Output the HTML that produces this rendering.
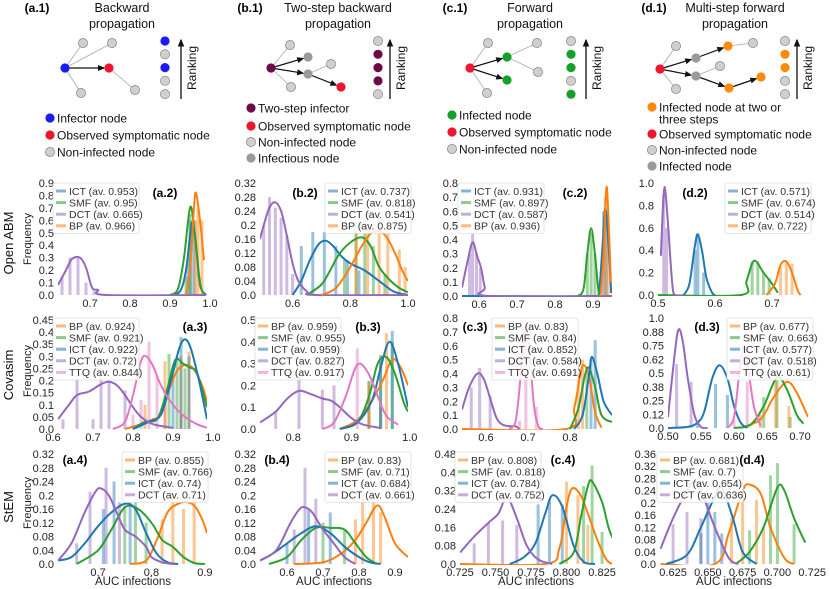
<!DOCTYPE html>
<html><head><meta charset="utf-8"><style>
body{margin:0;background:#fff}
svg{display:block;font-family:"Liberation Sans","DejaVu Sans",sans-serif}
</style></head><body>
<svg id="fig" width="830" height="589" viewBox="0 0 830 589" xmlns="http://www.w3.org/2000/svg">
<defs><marker id="ah" markerWidth="6" markerHeight="6" refX="5" refY="3" orient="auto"><path d="M0,0.5 L6,3 L0,5.5 z" fill="#111"/></marker></defs>
<g id="diagrams"></g>
<g id="charts"></g>
</svg>
<script>
// ---------- colors ----------
const COL={ICT:'#1f77b4',SMF:'#2ca02c',DCT:'#9467bd',BP:'#ff7f0e',TTQ:'#e377c2'};
// ---------- panel data ----------
const a2_ICT=[[0.9,0],[0.925,0.03],[0.94,0.2],[0.955,0.58],[0.965,0.4],[0.975,0.08],[0.99,0]];
const a2_SMF=[[0.9,0],[0.92,0.05],[0.935,0.3],[0.95,0.7],[0.96,0.55],[0.975,0.1],[0.985,0.01]];
const a2_DCT=[[0.62,0.08],[0.64,0.2],[0.655,0.29],[0.675,0.3],[0.69,0.22],[0.705,0.06],[0.72,0.04],[0.74,0],[0.99,0]];
const a2_BP=[[0.94,0],[0.95,0.2],[0.96,0.7],[0.965,0.82],[0.975,0.6],[0.985,0.28]];
const a2_bars={DCT:[[0.63,0.15],[0.65,0.3],[0.67,0.3],[0.69,0.1],[0.71,0.03]],ICT:[[0.945,0.3],[0.952,0.6],[0.96,0.6]],SMF:[[0.94,0.15],[0.95,0.65]],BP:[[0.963,0.6],[0.97,0.7],[0.98,0.6]]};

const b2_ICT=[[0.6,0],[0.63,0.04],[0.66,0.1],[0.69,0.145],[0.715,0.155],[0.74,0.14],[0.77,0.11],[0.8,0.09],[0.85,0.07],[0.9,0.04],[0.95,0.01],[1.0,0]];
const b2_SMF=[[0.65,0],[0.7,0.03],[0.73,0.07],[0.76,0.115],[0.8,0.15],[0.84,0.165],[0.87,0.14],[0.9,0.08],[0.94,0.04],[0.97,0.02],[1.0,0.008]];
const b2_DCT=[[0.487,0.16],[0.5,0.2],[0.52,0.25],[0.54,0.265],[0.56,0.24],[0.58,0.17],[0.6,0.09],[0.62,0.04],[0.65,0.01],[0.68,0],[1.0,0]];
const b2_BP=[[0.7,0],[0.75,0.02],[0.8,0.08],[0.84,0.14],[0.87,0.175],[0.9,0.183],[0.93,0.16],[0.96,0.11],[0.98,0.07],[1.0,0.04]];
const b2_bars={DCT:[[0.5,0.2],[0.52,0.28],[0.54,0.25],[0.56,0.22],[0.58,0.17],[0.6,0.06]],ICT:[[0.63,0.14],[0.67,0.18],[0.71,0.18],[0.75,0.14],[0.79,0.1],[0.83,0.07]],SMF:[[0.78,0.1],[0.82,0.2],[0.85,0.23],[0.88,0.14],[0.92,0.06]],BP:[[0.82,0.18],[0.86,0.24],[0.9,0.22],[0.93,0.18],[0.97,0.13],[0.99,0.08]]};

const c2_ICT=[[0.555,0],[0.9,0],[0.915,0.02],[0.925,0.35],[0.932,0.62],[0.94,0.4],[0.948,0.02]];
const c2_SMF=[[0.86,0],[0.875,0.05],[0.885,0.3],[0.895,0.48],[0.905,0.3],[0.915,0.03],[0.925,0]];
const c2_DCT=[[0.555,0.06],[0.57,0.25],[0.583,0.38],[0.595,0.28],[0.605,0.2],[0.615,0.06],[0.625,0],[0.95,0]];
const c2_BP=[[0.92,0],[0.928,0.3],[0.935,0.76],[0.94,0.6],[0.947,0.1]];
const c2_bars={DCT:[[0.575,0.3],[0.583,0.44],[0.593,0.3],[0.603,0.2]],SMF:[[0.885,0.3],[0.895,0.45],[0.905,0.3]],ICT:[[0.928,0.6],[0.935,0.6]],BP:[[0.932,0.7],[0.94,0.4]]};

const d2_ICT=[[0.545,0],[0.555,0.1],[0.565,0.45],[0.57,0.54],[0.577,0.4],[0.585,0.15],[0.595,0.02],[0.6,0]];
const d2_SMF=[[0.5,0],[0.645,0],[0.655,0.12],[0.665,0.28],[0.672,0.3],[0.685,0.2],[0.7,0.1],[0.71,0.02]];
const d2_DCT=[[0.505,0.35],[0.51,0.9],[0.513,0.92],[0.518,0.6],[0.525,0.1],[0.53,0],[0.545,0]];
const d2_BP=[[0.69,0],[0.705,0.1],[0.715,0.27],[0.725,0.3],[0.735,0.2],[0.745,0.04],[0.75,0]];
const d2_bars={DCT:[[0.51,0.9],[0.515,0.6]],ICT:[[0.565,0.4],[0.57,0.55],[0.58,0.2]],SMF:[[0.665,0.3],[0.675,0.3],[0.685,0.2],[0.695,0.15]],BP:[[0.715,0.25],[0.725,0.3],[0.735,0.28]]};

const a3_BP=[[0.78,0],[0.82,0.02],[0.85,0.04],[0.87,0.06],[0.89,0.16],[0.91,0.24],[0.935,0.265],[0.955,0.24],[0.975,0.17],[0.985,0.11]];
const a3_SMF=[[0.8,0],[0.83,0.03],[0.86,0.04],[0.88,0.13],[0.9,0.26],[0.91,0.29],[0.925,0.27],[0.94,0.255],[0.96,0.23],[0.985,0.09]];
const a3_ICT=[[0.8,0],[0.84,0.03],[0.87,0.06],[0.895,0.2],[0.915,0.33],[0.93,0.37],[0.945,0.33],[0.965,0.2],[0.985,0.04]];
const a3_DCT=[[0.6125,0.04],[0.64,0.1],[0.66,0.14],[0.69,0.155],[0.72,0.185],[0.74,0.195],[0.76,0.18],[0.78,0.14],[0.8,0.09],[0.82,0.05],[0.85,0.02],[0.9,0.005]];
const a3_TTQ=[[0.75,0],[0.78,0.03],[0.8,0.14],[0.82,0.28],[0.833,0.3],[0.85,0.26],[0.87,0.18],[0.9,0.1],[0.93,0.05],[0.96,0.02],[0.985,0.005]];
const a3_bars={DCT:[[0.625,0.04],[0.66,0.22],[0.7,0.04],[0.72,0.22],[0.74,0.2],[0.78,0.16]],TTQ:[[0.8,0.06],[0.82,0.12],[0.84,0.36],[0.86,0.22],[0.88,0.12],[0.92,0.06]],BP:[[0.83,0.1],[0.88,0.28],[0.92,0.3],[0.94,0.32]],SMF:[[0.89,0.31],[0.91,0.3],[0.93,0.25]],ICT:[[0.9,0.22],[0.92,0.38],[0.94,0.3]]};

const b3_BP=[[0.88,0],[0.91,0.04],[0.935,0.13],[0.955,0.23],[0.97,0.32],[0.985,0.28],[0.997,0.2]];
const b3_SMF=[[0.88,0],[0.91,0.03],[0.93,0.15],[0.945,0.3],[0.96,0.33],[0.975,0.25],[0.99,0.12],[0.997,0.08]];
const b3_ICT=[[0.88,0],[0.91,0.03],[0.935,0.13],[0.95,0.28],[0.965,0.4],[0.98,0.3],[0.997,0.1]];
const b3_DCT=[[0.743,0.03],[0.77,0.08],[0.79,0.14],[0.81,0.175],[0.83,0.16],[0.85,0.14],[0.865,0.13],[0.88,0.1],[0.9,0.05],[0.92,0.02],[0.95,0.005]];
const b3_TTQ=[[0.85,0],[0.87,0.03],[0.89,0.15],[0.905,0.27],[0.915,0.3],[0.93,0.25],[0.945,0.15],[0.96,0.06],[0.98,0.02]];
const b3_bars={DCT:[[0.77,0.08],[0.81,0.24],[0.85,0.18],[0.87,0.2]],TTQ:[[0.91,0.37],[0.93,0.22],[0.95,0.1]],SMF:[[0.93,0.22],[0.95,0.32],[0.97,0.4]],ICT:[[0.95,0.34],[0.97,0.45]],BP:[[0.93,0.2],[0.96,0.44]]};

const c3_BP=[[0.543,0],[0.79,0],[0.81,0.15],[0.825,0.4],[0.833,0.46],[0.845,0.38],[0.86,0.12],[0.875,0.01]];
const c3_SMF=[[0.8,0],[0.82,0.15],[0.835,0.38],[0.845,0.44],[0.86,0.3],[0.875,0.1],[0.9,0.05]];
const c3_ICT=[[0.81,0],[0.83,0.1],[0.845,0.38],[0.852,0.52],[0.865,0.4],[0.88,0.2],[0.9,0.1]];
const c3_DCT=[[0.543,0.14],[0.56,0.3],[0.58,0.4],[0.595,0.36],[0.61,0.22],[0.625,0.08],[0.64,0.03],[0.66,0.02],[0.67,0.02],[0.68,0]];
const c3_TTQ=[[0.655,0],[0.67,0.05],[0.68,0.3],[0.69,0.7],[0.697,0.72],[0.705,0.5],[0.715,0.15],[0.725,0.02],[0.735,0]];
const c3_bars={DCT:[[0.565,0.3],[0.585,0.44],[0.61,0.24]],TTQ:[[0.68,0.06],[0.695,0.7],[0.72,0.16]],BP:[[0.82,0.4],[0.83,0.5]],SMF:[[0.84,0.4]],ICT:[[0.85,0.5],[0.86,0.64]]};

const d3_BP=[[0.61,0],[0.64,0.08],[0.66,0.28],[0.68,0.42],[0.695,0.32],[0.712,0.1]];
const d3_SMF=[[0.6,0],[0.625,0.03],[0.645,0.2],[0.665,0.46],[0.68,0.35],[0.695,0.12],[0.705,0.04]];
const d3_ICT=[[0.5,0],[0.53,0.01],[0.545,0.05],[0.555,0.15],[0.567,0.45],[0.578,0.57],[0.59,0.45],[0.6,0.2],[0.61,0.05],[0.62,0]];
const d3_DCT=[[0.5,0.1],[0.507,0.5],[0.515,0.88],[0.522,0.8],[0.53,0.45],[0.54,0.12],[0.55,0.01],[0.56,0]];
const d3_TTQ=[[0.59,0],[0.6,0.1],[0.608,0.5],[0.615,0.75],[0.62,0.6],[0.63,0.2],[0.64,0.02]];
const d3_bars={DCT:[[0.513,0.58],[0.535,0.42]],ICT:[[0.545,0.05],[0.572,0.4],[0.59,0.3]],TTQ:[[0.6,0.08],[0.62,0.42]],SMF:[[0.645,0.28],[0.665,0.5],[0.685,0.1]],BP:[[0.64,0.12],[0.663,0.45],[0.683,0.2]]};

const a4_BP=[[0.76,0],[0.79,0.01],[0.81,0.07],[0.83,0.15],[0.85,0.175],[0.865,0.18],[0.88,0.17],[0.895,0.13],[0.904,0.09]];
const a4_SMF=[[0.66,0],[0.7,0.04],[0.725,0.1],[0.75,0.165],[0.775,0.16],[0.8,0.12],[0.82,0.07],[0.84,0.05],[0.86,0.02],[0.88,0.003],[0.9,0]];
const a4_ICT=[[0.625,0.01],[0.65,0.02],[0.675,0.06],[0.7,0.11],[0.725,0.15],[0.75,0.175],[0.77,0.16],[0.79,0.09],[0.81,0.03],[0.83,0.005],[0.85,0]];
const a4_DCT=[[0.625,0.01],[0.65,0.06],[0.675,0.15],[0.695,0.21],[0.705,0.22],[0.72,0.2],[0.735,0.15],[0.75,0.1],[0.77,0.08],[0.79,0.05],[0.8,0.02],[0.82,0.005],[0.84,0]];
const a4_bars={DCT:[[0.66,0.06],[0.685,0.21],[0.715,0.28],[0.74,0.18]],ICT:[[0.71,0.16],[0.73,0.24],[0.76,0.18]],SMF:[[0.75,0.17],[0.77,0.19],[0.79,0.12]],BP:[[0.82,0.13],[0.84,0.2],[0.86,0.16],[0.88,0.2]]};

const b4_BP=[[0.62,0],[0.7,0.005],[0.75,0.03],[0.79,0.07],[0.82,0.12],[0.85,0.17],[0.87,0.14],[0.9,0.06],[0.936,0.02]];
const b4_SMF=[[0.55,0],[0.6,0.02],[0.64,0.07],[0.68,0.105],[0.72,0.105],[0.76,0.1],[0.79,0.06],[0.82,0.02],[0.85,0]];
const b4_ICT=[[0.525,0.01],[0.56,0.03],[0.6,0.06],[0.64,0.09],[0.68,0.11],[0.72,0.09],[0.76,0.05],[0.8,0.02],[0.83,0.005],[0.86,0]];
const b4_DCT=[[0.525,0.01],[0.57,0.04],[0.61,0.12],[0.635,0.16],[0.65,0.165],[0.67,0.15],[0.7,0.1],[0.73,0.06],[0.76,0.02],[0.79,0]];
const b4_bars={DCT:[[0.62,0.1],[0.65,0.28],[0.68,0.19]],ICT:[[0.6,0.06],[0.66,0.16],[0.72,0.15]],SMF:[[0.7,0.12],[0.76,0.1]],BP:[[0.79,0.13],[0.81,0.2],[0.84,0.22],[0.86,0.15]]};

const c4_BP=[[0.725,0],[0.785,0],[0.795,0.07],[0.8,0.25],[0.804,0.33],[0.81,0.3],[0.815,0.22],[0.822,0.1],[0.828,0.02],[0.832,0]];
const c4_SMF=[[0.795,0],[0.805,0.05],[0.81,0.2],[0.815,0.34],[0.818,0.36],[0.825,0.27],[0.83,0.15],[0.836,0.07]];
const c4_ICT=[[0.76,0],[0.77,0.03],[0.778,0.09],[0.785,0.22],[0.79,0.3],[0.797,0.25],[0.805,0.08],[0.812,0.01],[0.82,0]];
const c4_DCT=[[0.725,0.05],[0.735,0.12],[0.745,0.18],[0.752,0.22],[0.758,0.29],[0.765,0.2],[0.772,0.08],[0.78,0.02],[0.79,0]];
const c4_bars={DCT:[[0.735,0.09],[0.745,0.18],[0.755,0.19],[0.765,0.17]],ICT:[[0.78,0.26],[0.788,0.28],[0.797,0.26]],BP:[[0.8,0.36],[0.808,0.3],[0.815,0.17]],SMF:[[0.812,0.34],[0.818,0.43],[0.825,0.14]]};

const d4_BP=[[0.616,0],[0.655,0],[0.665,0.1],[0.675,0.24],[0.68,0.26],[0.688,0.23],[0.695,0.12],[0.705,0.02],[0.712,0]];
const d4_SMF=[[0.67,0],[0.68,0.04],[0.69,0.12],[0.7,0.25],[0.705,0.24],[0.712,0.15],[0.72,0.07]];
const d4_ICT=[[0.62,0],[0.635,0.03],[0.645,0.12],[0.655,0.22],[0.66,0.25],[0.668,0.15],[0.675,0.04],[0.685,0]];
const d4_DCT=[[0.616,0.05],[0.625,0.15],[0.635,0.24],[0.64,0.27],[0.645,0.24],[0.655,0.12],[0.665,0.02],[0.672,0]];
const d4_bars={DCT:[[0.625,0.13],[0.635,0.17],[0.645,0.15]],ICT:[[0.645,0.1],[0.65,0.2],[0.655,0.17],[0.66,0.1]],BP:[[0.667,0.15],[0.675,0.21],[0.685,0.21],[0.69,0.12]],SMF:[[0.68,0.11],[0.695,0.29],[0.7,0.33],[0.712,0.13]]};

// tick label arrays
const yt_01_09=['0.0','0.1','0.2','0.3','0.4','0.5','0.6','0.7','0.8','0.9'];
const yt_04_32=['0.0','0.04','0.08','0.12','0.16','0.2','0.24','0.28','0.32'];
const yt_01_08=['0.0','0.1','0.2','0.3','0.4','0.5','0.6','0.7','0.8'];
const yt_02_10=['0.0','0.2','0.4','0.6','0.8','1.0'];
const yt_05_45=['0.0','0.05','0.1','0.15','0.2','0.25','0.3','0.35','0.4','0.45'];
const yt_01_05=['0.0','0.1','0.2','0.3','0.4','0.5'];
const yt_d3=['0.0','0.12','0.25','0.38','0.5','0.62','0.75','0.88','1.0'];
const yt_08_48=['0.0','0.08','0.16','0.24','0.32','0.4','0.48'];
const yt_04_36=['0.0','0.04','0.08','0.12','0.16','0.2','0.24','0.28','0.32','0.36'];

const panels=[
 {id:'a2',lab:'(a.2)',labx:165,laby:197,box:[58,183,207,295],xd:[0.62,0.9925],ymax:0.9,yt:yt_01_09,xt:['0.7','0.8','0.9','1.0'],
  order:['ICT','SMF','DCT','BP'],curves:{ICT:a2_ICT,SMF:a2_SMF,DCT:a2_DCT,BP:a2_BP},bars:a2_bars,avg:['0.953','0.95','0.665','0.966'],leg:[53,183]},
 {id:'b2',lab:'(b.2)',labx:305,laby:197,box:[260,183,408,295],xd:[0.487,1.0],ymax:0.32,yt:yt_04_32,xt:['0.6','0.8','1.0'],
  order:['ICT','SMF','DCT','BP'],curves:{ICT:b2_ICT,SMF:b2_SMF,DCT:b2_DCT,BP:b2_BP},bars:b2_bars,avg:['0.737','0.818','0.541','0.875'],leg:[325,183]},
 {id:'c2',lab:'(c.2)',labx:575,laby:197,box:[462,183,612,296],xd:[0.555,0.95],ymax:0.8,yt:yt_01_08,xt:['0.6','0.7','0.8','0.9'],
  order:['ICT','SMF','DCT','BP'],curves:{ICT:c2_ICT,SMF:c2_SMF,DCT:c2_DCT,BP:c2_BP},bars:c2_bars,avg:['0.931','0.897','0.587','0.936'],leg:[458,183]},
 {id:'d2',lab:'(d.2)',labx:695,laby:197,box:[658,183,808,295],xd:[0.5,0.763],ymax:1.0,yt:yt_02_10,xt:['0.5','0.6','0.7'],
  order:['ICT','SMF','DCT','BP'],curves:{ICT:d2_ICT,SMF:d2_SMF,DCT:d2_DCT,BP:d2_BP},bars:d2_bars,avg:['0.571','0.674','0.514','0.722'],leg:[725,183]},
 {id:'a3',lab:'(a.3)',labx:195,laby:331,box:[58,320,207,429],xd:[0.6125,0.985],ymax:0.45,yt:yt_05_45,xt:['0.6','0.7','0.8','0.9','1.0'],
  order:['BP','SMF','ICT','DCT','TTQ'],curves:{BP:a3_BP,SMF:a3_SMF,ICT:a3_ICT,DCT:a3_DCT,TTQ:a3_TTQ},bars:a3_bars,avg:['0.924','0.921','0.922','0.72','0.844'],leg:[53,318]},
 {id:'b3',lab:'(b.3)',labx:368,laby:331,box:[260,320,408,429],xd:[0.743,0.997],ymax:0.5,yt:yt_01_05,xt:['0.8','0.9','1.0'],
  order:['BP','SMF','ICT','DCT','TTQ'],curves:{BP:b3_BP,SMF:b3_SMF,ICT:b3_ICT,DCT:b3_DCT,TTQ:b3_TTQ},bars:b3_bars,avg:['0.959','0.955','0.959','0.827','0.917'],leg:[255,318]},
 {id:'c3',lab:'(c.3)',labx:475,laby:331,box:[462,318,612,429],xd:[0.543,0.9],ymax:0.8,yt:yt_01_08,xt:['0.6','0.7','0.8'],
  order:['BP','SMF','ICT','DCT','TTQ'],curves:{BP:c3_BP,SMF:c3_SMF,ICT:c3_ICT,DCT:c3_DCT,TTQ:c3_TTQ},bars:c3_bars,avg:['0.83','0.84','0.852','0.584','0.691'],leg:[492,318]},
 {id:'d3',lab:'(d.3)',labx:707,laby:331,box:[668,318,808,428],xd:[0.5,0.712],ymax:1.0,yt:yt_d3,xt:['0.50','0.55','0.60','0.65','0.70'],
  order:['BP','SMF','ICT','DCT','TTQ'],curves:{BP:d3_BP,SMF:d3_SMF,ICT:d3_ICT,DCT:d3_DCT,TTQ:d3_TTQ},bars:d3_bars,avg:['0.677','0.663','0.577','0.518','0.61'],leg:[727,318]},
 {id:'a4',lab:'(a.4)',labx:75,laby:464,box:[58,454,207,564],xd:[0.625,0.904],ymax:0.32,yt:yt_04_32,xt:['0.7','0.8','0.9'],
  order:['BP','SMF','ICT','DCT'],curves:{BP:a4_BP,SMF:a4_SMF,ICT:a4_ICT,DCT:a4_DCT},bars:a4_bars,avg:['0.855','0.766','0.74','0.71'],leg:[122,452]},
 {id:'b4',lab:'(b.4)',labx:277,laby:464,box:[260,454,408,564],xd:[0.525,0.936],ymax:0.32,yt:yt_04_32,xt:['0.6','0.7','0.8','0.9'],
  order:['BP','SMF','ICT','DCT'],curves:{BP:b4_BP,SMF:b4_SMF,ICT:b4_ICT,DCT:b4_DCT},bars:b4_bars,avg:['0.83','0.71','0.684','0.661'],leg:[325,452]},
 {id:'c4',lab:'(c.4)',labx:563,laby:464,box:[460,454,612,564],xd:[0.725,0.832],ymax:0.48,yt:yt_08_48,xt:['0.725','0.750','0.775','0.800','0.825'],
  order:['BP','SMF','ICT','DCT'],curves:{BP:c4_BP,SMF:c4_SMF,ICT:c4_ICT,DCT:c4_DCT},bars:c4_bars,avg:['0.808','0.818','0.784','0.752'],leg:[455,452]},
 {id:'d4',lab:'(d.4)',labx:752,laby:464,box:[660,454,808,564],xd:[0.6156,0.722],ymax:0.36,yt:yt_04_36,xt:['0.625','0.650','0.675','0.700','0.725'],
  order:['BP','SMF','ICT','DCT'],curves:{BP:d4_BP,SMF:d4_SMF,ICT:d4_ICT,DCT:d4_DCT},bars:d4_bars,avg:['0.681','0.7','0.654','0.636'],leg:[657,452]}
];

const NS='http://www.w3.org/2000/svg';
function mk(tag,attrs,parent,txt){const e=document.createElementNS(NS,tag);for(const k in attrs)e.setAttribute(k,attrs[k]);if(txt!==undefined)e.textContent=txt;parent.appendChild(e);return e;}
function smooth(pts){let d='M'+pts[0][0].toFixed(1)+','+pts[0][1].toFixed(1);
 for(let i=0;i<pts.length-1;i++){const p0=pts[Math.max(0,i-1)],p1=pts[i],p2=pts[i+1],p3=pts[Math.min(pts.length-1,i+2)];
  const c1=[p1[0]+(p2[0]-p0[0])/6,p1[1]+(p2[1]-p0[1])/6],c2=[p2[0]-(p3[0]-p1[0])/6,p2[1]-(p3[1]-p1[1])/6];
  d+=' C'+c1.map(v=>v.toFixed(1))+' '+c2.map(v=>v.toFixed(1))+' '+p2.map(v=>v.toFixed(1));}
 return d;}

const charts=document.getElementById('charts');
panels.forEach(p=>{
 const [L,T,R,B]=p.box;
 const g=mk('g',{},charts);
 
 
 const sx=v=>L+(v-p.xd[0])/(p.xd[1]-p.xd[0])*(R-L);
 const sy=v=>B-v/p.ymax*(B-T);
 // y ticks
 const n=p.yt.length;
 p.yt.forEach((t,i)=>{const v=p.ymax*i/(n-1);
  const e=mk('text',{x:L-4,y:sy(v)+4,'font-size':11,'text-anchor':'end',fill:'#222'},g,t);
  
  });
 p.xt.forEach(t=>{const v=parseFloat(t);
  const e=mk('text',{x:sx(v),y:B+12,'font-size':11,'text-anchor':'middle',fill:'#222'},g,t);
  
  });
 const cid='clip'+p.id;
 const cp=mk('clipPath',{id:cid},g);mk('rect',{x:L,y:T-2,width:R-L,height:B-T+3},cp);
 const pg=mk('g',{'clip-path':'url(#'+cid+')'},g);
 // bars
 for(const s in p.bars){p.bars[s].forEach(b=>{
  const r=mk('rect',{x:sx(b[0])-1.5,y:sy(b[1]),width:3,height:B-sy(b[1]),fill:COL[s],'fill-opacity':0.45},pg);
  
  });}
 // curves
 p.order.forEach(s=>{const pts=p.curves[s].map(q=>[sx(q[0]),sy(q[1])]);
  const c=mk('path',{d:smooth(pts),fill:'none',stroke:COL[s],'stroke-width':2},pg);
  
  });
 // legend
 const [lx,ly]=p.leg;const rows=p.order.length;
 const lg=mk('g',{},g);
 
 
 mk('rect',{x:lx,y:ly,width:86,height:rows*11.6+4,fill:'#fff','fill-opacity':0.85,stroke:'#ddd','stroke-width':0.8,rx:2},lg);
 p.order.forEach((s,i)=>{const yy=ly+8+i*11.6;
  mk('rect',{x:lx+3,y:yy-1.5,width:10,height:3,fill:COL[s],'fill-opacity':0.55},lg);
  const t=mk('text',{x:lx+16,y:yy+3.8,'font-size':10.5,fill:'#333'},lg,s+' (av. '+p.avg[i]+')');
  
  });
 const lb=mk('text',{x:p.labx,y:p.laby,'font-size':12,'font-weight':'bold','text-anchor':'middle',fill:'#000'},g,p.lab);
 
 
});
// row labels and axis titles
[['Open ABM',243,'row-label-openabm'],['Covasim',375,'row-label-covasim'],['StEM',507,'row-label-stem']].forEach(r=>{
 const t=mk('text',{x:0,y:0,'font-size':13,'text-anchor':'middle',fill:'#111',transform:'translate(13,'+r[1]+') rotate(-90)'},charts,r[0]);
 
 
 const f=mk('text',{x:0,y:0,'font-size':11,'text-anchor':'middle',fill:'#222',transform:'translate(31,'+(r[1]-4)+') rotate(-90)'},charts,'Frequency');
 
 });
[133,334,536,734].forEach(x=>{const t=mk('text',{x:x,y:585,'font-size':11.5,'text-anchor':'middle',fill:'#222'},charts,'AUC infections');
 
 });

// ---------- diagrams ----------
const NC={blue:'#1a1aff',red:'#f0142d',grey:'#cfcfcf',dgrey:'#9a9a9a',green:'#16a02a',purple:'#6e0a48',orange:'#ff8a0a'};
const diag=document.getElementById('diagrams');
const diagrams=[
 {id:'a1',lab:'(a.1)',labx:37,tx:122,title:['Backward','propagation'],
  nodes:[[65,68,'blue'],[109,68,'red'],[83,43,'grey'],[112,43,'grey'],[81,93,'grey'],[135,90,'grey']],
  edges:[[0,2,0],[0,3,0],[0,4,0],[1,5,0],[0,1,1]],rank:{x:165,ax:181,cols:['blue','grey','blue','grey','grey']},
  leg:{x:50,items:[[118,'blue','Infector node'],[135,'red','Observed symptomatic node'],[152,'grey','Non-infected node']]}},
 {id:'b1',lab:'(b.1)',labx:250,tx:338,title:['Two-step backward','propagation'],
  nodes:[[271,68,'purple'],[290,45,'grey'],[308,57,'dgrey'],[308,74,'dgrey'],[331,64,'grey'],[291,87,'grey'],[341,87,'red']],
  edges:[[0,1,0],[0,5,0],[3,4,0],[0,2,1],[0,3,1],[3,6,1]],rank:{x:378,ax:390,cols:['grey','purple','purple','purple','grey']},
  leg:{x:251,items:[[108,'purple','Two-step infector'],[126,'red','Observed symptomatic node'],[142,'grey','Non-infected node'],[158,'dgrey','Infectious node']]}},
 {id:'c1',lab:'(c.1)',labx:455,tx:530,title:['Forward','propagation'],
  nodes:[[470,68,'red'],[488,43,'grey'],[507,57,'green'],[507,80,'green'],[537,43,'grey'],[538,72,'grey'],[487,93,'grey']],
  edges:[[0,1,0],[0,6,0],[2,4,0],[2,5,0],[0,2,1],[0,3,1]],rank:{x:571,ax:586,cols:['grey','green','green','grey','green']},
  leg:{x:452,items:[[115,'green','Infected node'],[132,'red','Observed symptomatic node'],[149,'grey','Non-infected node']]}},
 {id:'d1',lab:'(d.1)',labx:654,tx:735,title:['Multi-step forward','propagation'],
  nodes:[[660,69,'red'],[676,46,'grey'],[676,89,'grey'],[696,58,'dgrey'],[696,76,'dgrey'],[728,46,'orange'],[753,43,'grey'],[720,66,'grey'],[729,88,'orange'],[761,77,'orange']],
  edges:[[0,1,0],[0,2,0],[5,6,0],[4,7,0],[0,3,1],[0,4,1],[3,5,1],[4,8,1],[8,9,1]],rank:{x:785,ax:797,cols:['grey','orange','orange','grey','grey']},
  leg:{x:652,items:[[107,'orange','Infected node at two or'],[119,null,'three steps'],[134,'red','Observed symptomatic node'],[150,'grey','Non-infected node'],[166,'dgrey','Infected node']]}}
];
function node(g,x,y,c,name){const e=mk('circle',{cx:x,cy:y,r:4.6,fill:NC[c],stroke:c==='grey'?'#777':'none','stroke-width':0.6},g);
 
 }
diagrams.forEach(d=>{
 const g=mk('g',{},diag);
 
 
 mk('text',{x:d.labx,y:12,'font-size':12,'font-weight':'bold','text-anchor':'middle'},g,d.lab);
 mk('text',{x:d.tx,y:12,'font-size':12.5,'text-anchor':'middle',fill:'#111'},g,d.title[0]);
 mk('text',{x:d.tx,y:28,'font-size':12.5,'text-anchor':'middle',fill:'#111'},g,d.title[1]);
 d.edges.forEach(e=>{const a=d.nodes[e[0]],b=d.nodes[e[1]];
  const dx=b[0]-a[0],dy=b[1]-a[1],l=Math.hypot(dx,dy),k=(l-5)/l;
  if(e[2])mk('line',{x1:a[0],y1:a[1],x2:a[0]+dx*k,y2:a[1]+dy*k,stroke:'#111','stroke-width':1.2,'marker-end':'url(#ah)'},g);
  else mk('line',{x1:a[0],y1:a[1],x2:b[0],y2:b[1],stroke:'#aaa','stroke-width':0.8},g);});
 d.nodes.forEach(n=>node(g,n[0],n[1],n[2],'graph-node'));
 d.rank.cols.forEach((c,i)=>node(g,d.rank.x,41+i*13.3,c,'ranking-node'));
 mk('line',{x1:d.rank.ax,y1:99,x2:d.rank.ax,y2:40,stroke:'#111','stroke-width':1.3,'marker-end':'url(#ah)'},g);
 mk('text',{x:0,y:0,'font-size':12,'text-anchor':'middle',fill:'#111',transform:'translate('+(d.rank.ax+15)+',68) rotate(-90)'},g,'Ranking');
 d.leg.items.forEach(it=>{if(it[1])node(g,d.leg.x,it[0],it[1],'legend-node');
  const t=mk('text',{x:d.leg.x+7,y:it[0]+4.3,'font-size':12,fill:'#111'},g,it[2]);
  
  });
});
</script>
</body></html>
